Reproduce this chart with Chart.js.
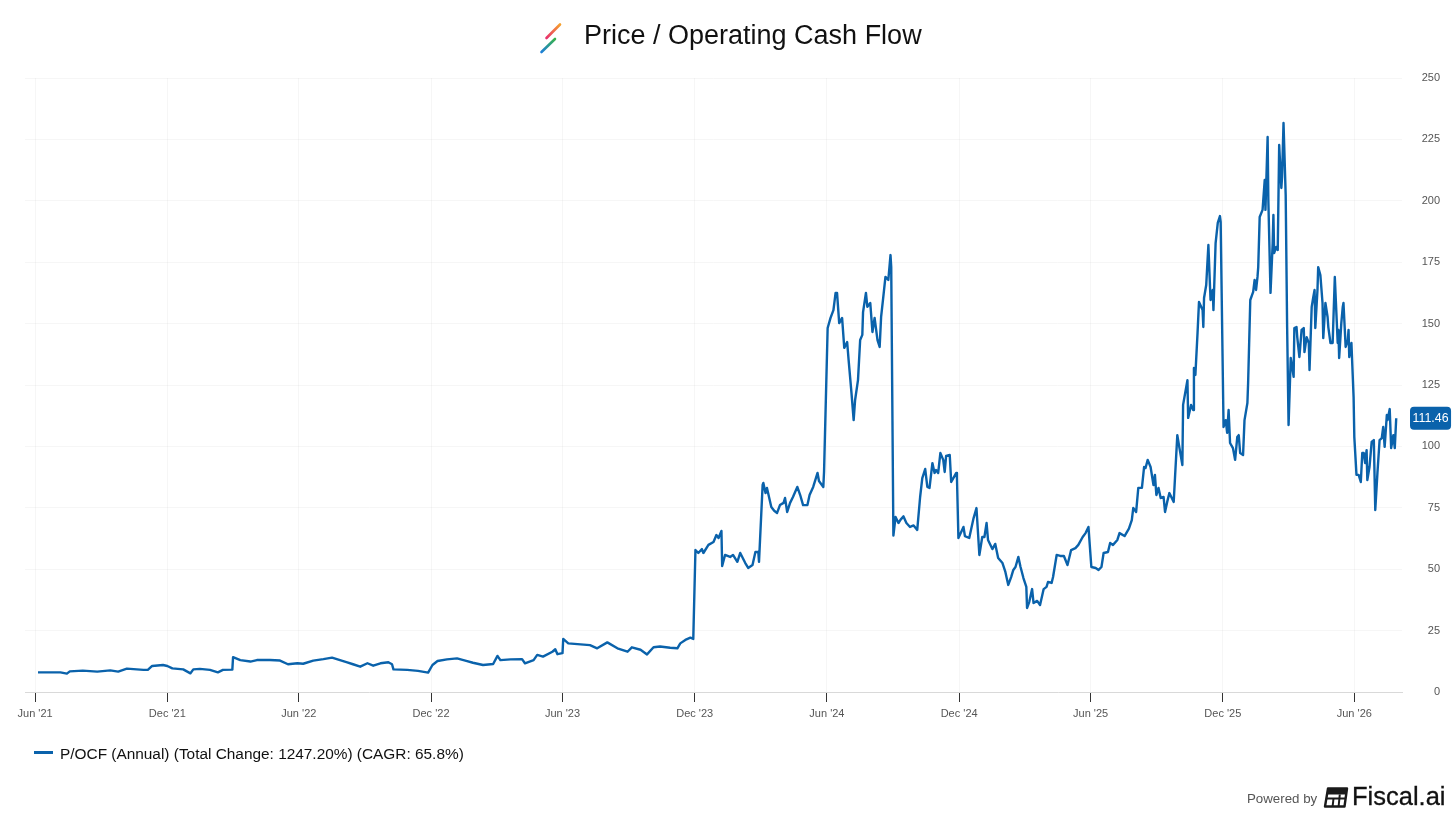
<!DOCTYPE html>
<html>
<head>
<meta charset="utf-8">
<title>Price / Operating Cash Flow</title>
<script src="https://cdn.jsdelivr.net/npm/chart.js@4.4.1/dist/chart.umd.min.js"></script>
<style>
  html, body { margin: 0; padding: 0; background: #fff; }
  #wrap { position: relative; width: 1456px; height: 819px; overflow: hidden;
          font-family: "Liberation Sans", Arial, Helvetica, sans-serif; }
  #chartBox { position: absolute; left: 0; top: 0; width: 1456px; height: 819px; }
  .title { position: absolute; left: 584px; top: 22px; font-size: 27px; line-height: 1;
           color: #111; white-space: nowrap; }
  .titleLogo { position: absolute; left: 536px; top: 20px; }
  .legendLine { position: absolute; left: 34px; top: 751px; width: 19px; height: 3px; background: #0a62ab; }
  .legendText { position: absolute; left: 60px; top: 746px; font-size: 15.4px; line-height: 1;
                color: #111; white-space: nowrap; }
  .powered { position: absolute; left: 1247px; top: 792px; font-size: 13.3px; line-height: 1;
             color: #555; white-space: nowrap; }
  .brandLogo { position: absolute; left: 1323px; top: 787px; }
  .brand { position: absolute; left: 1352px; top: 784px; font-size: 25.5px; line-height: 1;
           color: #111; white-space: nowrap; -webkit-text-stroke: 0.3px #111; }
</style>
</head>
<body>
<div id="wrap">
  <div id="chartBox"><canvas id="pocfChart"></canvas></div>

  <svg class="titleLogo" width="30" height="36" viewBox="0 0 30 36">
    <defs>
      <linearGradient id="gTop" x1="0" y1="1" x2="1" y2="0">
        <stop offset="0" stop-color="#e8306e"/>
        <stop offset="1" stop-color="#f5a02c"/>
      </linearGradient>
      <linearGradient id="gBot" x1="0" y1="1" x2="1" y2="0">
        <stop offset="0" stop-color="#1d7fd8"/>
        <stop offset="1" stop-color="#38b24a"/>
      </linearGradient>
    </defs>
    <line x1="10.5" y1="18" x2="24" y2="4.5" stroke="url(#gTop)" stroke-width="2.6" stroke-linecap="round"/>
    <line x1="5.5" y1="32" x2="19" y2="19" stroke="url(#gBot)" stroke-width="2.6" stroke-linecap="round"/>
  </svg>
  <div class="title">Price / Operating Cash Flow</div>

  <div class="legendLine"></div>
  <div class="legendText">P/OCF (Annual) (Total Change: 1247.20%) (CAGR: 65.8%)</div>

  <div class="powered">Powered by</div>
  <svg class="brandLogo" width="26" height="21" viewBox="0 0 26 21">
    <path d="M5 1.5 H24 L21.5 19.5 H2 Z" fill="none" stroke="#1a1a1a" stroke-width="2.4" stroke-linejoin="round"/>
    <path d="M5 1.5 H24 L23.2 7.5 H4.2 Z" fill="#1a1a1a"/>
    <line x1="4" y1="11.5" x2="22.6" y2="11.5" stroke="#1a1a1a" stroke-width="2"/>
    <line x1="10.5" y1="11.5" x2="9.6" y2="19.5" stroke="#1a1a1a" stroke-width="2"/>
    <line x1="16.8" y1="7.5" x2="15.6" y2="19.5" stroke="#1a1a1a" stroke-width="2"/>
  </svg>
  <div class="brand">Fiscal.ai</div>
</div>

<script>
const LINE = "#0a62ab";
const FONT = '"Liberation Sans", Arial, Helvetica, sans-serif';

// x values are days counted from 1 Jun 2021
const START = Date.UTC(2021, 5, 1);
const tickDates = ["2021-06-01", "2021-12-01", "2022-06-01", "2022-12-01", "2023-06-01", "2023-12-01",
                   "2024-06-01", "2024-12-01", "2025-06-01", "2025-12-01", "2026-06-01"];
const tickLabels = ["Jun '21", "Dec '21", "Jun '22", "Dec '22", "Jun '23", "Dec '23",
                    "Jun '24", "Dec '24", "Jun '25", "Dec '25", "Jun '26"];
const yTicks = [0, 25, 50, 75, 100, 125, 150, 175, 200, 225, 250];

// Jun 2021 - Nov 2023
const days21to23 = [4, 21, 35, 44, 48, 66, 86, 104, 115, 127, 150, 156, 162, 177, 183, 190, 205, 215, 219, 228,
  242, 253, 260, 273, 274, 284, 298, 307, 325, 339, 350, 363, 371, 385, 399, 411, 422, 432, 440, 450,
  460, 468, 478, 489, 494, 496, 515, 530, 544, 550, 557, 570, 584, 598, 606, 620, 634, 640, 644, 658,
  674, 678, 690, 695, 703, 716, 720, 723, 730, 731, 738, 755, 768, 778, 792, 806, 820, 826, 838, 847,
  856, 865, 879, 889, 893, 900, 907, 911];
const pocf21to23 = [8.0, 8.0, 8.0, 7.5, 8.4, 8.7, 8.3, 8.8, 8.3, 9.5, 9.0, 9.0, 10.6, 11.0, 10.6, 9.6, 9.2, 7.6, 9.2, 9.4,
  9.0, 8.0, 9.0, 9.1, 14.2, 13.0, 12.4, 13.0, 13.0, 12.8, 11.3, 11.7, 11.5, 12.8, 13.4, 14.0, 13.0, 12.1, 11.3, 10.3,
  11.7, 10.7, 11.7, 12.1, 11.3, 9.2, 9.0, 8.6, 7.9, 11.0, 12.6, 13.3, 13.7, 12.6, 11.9, 11.0, 11.4, 14.7, 13.0, 13.3,
  13.4, 11.7, 13.0, 15.1, 14.4, 16.4, 17.4, 15.4, 15.8, 21.6, 19.8, 19.4, 19.1, 17.8, 20.2, 17.8, 16.4, 18.2, 17.2, 15.3,
  18.2, 18.5, 18.0, 17.8, 19.8, 21.2, 22.1, 21.6];

// Dec 2023 - May 2024
const days23to24 = [914, 918, 923, 925, 932, 939, 943, 946, 950, 951, 955, 962, 966, 972, 976, 983, 987, 993, 997, 1001,
  1002, 1007, 1008, 1011, 1013, 1019, 1023, 1027, 1031, 1036, 1038, 1041, 1045, 1049, 1055, 1059, 1063, 1069, 1072, 1077,
  1083, 1085, 1091, 1092];
const pocf23to24 = [57.8, 56.6, 58.2, 56.6, 59.9, 61.1, 63.9, 62.7, 65.6, 51.3, 55.8, 55.0, 55.8, 53.0, 56.6, 52.5, 50.5, 51.7, 57.0, 57.0,
  53.0, 84.3, 85.1, 81.0, 83.1, 75.3, 73.8, 72.9, 76.1, 77.0, 79.0, 73.3, 77.0, 79.4, 83.5, 80.2, 76.1, 76.1, 80.2, 83.5,
  89.2, 85.9, 83.5, 89.6];

// Jun 2024 - Nov 2024
const days24 = [1097, 1101, 1105, 1108, 1110, 1113, 1117, 1120, 1124, 1126, 1130, 1133, 1135, 1139, 1142, 1145, 1146, 1150, 1152, 1156,
  1159, 1162, 1166, 1169, 1171, 1174, 1177, 1181, 1184, 1185, 1188, 1191, 1195, 1198, 1202, 1206, 1211, 1216, 1221, 1225,
  1228, 1232, 1235, 1238, 1242, 1245, 1247, 1250, 1253, 1257, 1259, 1261, 1266, 1268, 1271, 1275, 1276];
const pocf24 = [148.2, 152.3, 155.5, 162.5, 162.5, 150.2, 152.3, 140.1, 142.5, 135.2, 121.7, 110.7, 118.9, 127.0, 143.3, 145.4, 154.7, 162.5, 156.8, 158.4,
  146.6, 152.3, 143.3, 140.5, 152.7, 160.8, 169.0, 167.8, 177.9, 173.0, 63.7, 71.3, 68.8, 70.2, 71.5, 68.8, 67.2, 67.8, 66.0, 79.4,
  87.1, 90.8, 83.5, 83.1, 93.2, 89.2, 90.4, 89.2, 97.3, 94.5, 89.6, 96.1, 96.5, 85.5, 87.1, 89.2, 87.1];

// Dec 2024 - May 2025
const days24to25 = [1278, 1285, 1287, 1293, 1299, 1303, 1307, 1311, 1314, 1317, 1319, 1325, 1329, 1333, 1339, 1343, 1347, 1351, 1354, 1357,
  1361, 1364, 1368, 1372, 1373, 1376, 1380, 1382, 1387, 1391, 1396, 1400, 1402, 1407, 1409, 1414, 1419, 1424, 1429, 1434,
  1440, 1444, 1450, 1454, 1458];
const pocf24to25 = [62.7, 67.2, 63.5, 62.7, 70.8, 74.9, 55.8, 63.1, 63.1, 68.8, 61.9, 58.2, 60.3, 54.6, 52.5, 48.9, 43.6, 46.8, 49.7, 50.9,
  55.0, 50.9, 46.4, 42.8, 34.2, 36.6, 41.9, 36.2, 37.1, 35.4, 41.9, 42.8, 44.8, 44.4, 46.8, 55.8, 55.4, 55.4, 51.7, 57.8,
  58.6, 59.9, 63.1, 64.7, 67.2];

// Jun 2025 - Nov 2025
const days25 = [1462, 1468, 1472, 1476, 1479, 1485, 1488, 1492, 1498, 1501, 1508, 1514, 1518, 1520, 1524, 1527, 1532, 1535, 1537, 1540,
  1544, 1548, 1550, 1552, 1555, 1558, 1562, 1564, 1567, 1570, 1576, 1578, 1581, 1584, 1588, 1589, 1595, 1596, 1600, 1603,
  1604, 1606, 1609, 1611, 1616, 1617, 1618, 1621, 1624, 1627, 1630, 1631, 1634, 1637, 1640, 1641];
const pocf25 = [50.9, 50.5, 49.7, 50.9, 56.6, 57.0, 60.7, 59.9, 61.9, 64.7, 63.5, 66.5, 70.0, 74.9, 73.3, 83.1, 83.1, 91.6, 91.2, 94.5,
  91.6, 84.3, 88.4, 80.2, 83.1, 79.0, 79.4, 73.3, 77.4, 81.0, 77.4, 88.4, 104.6, 99.3, 92.4, 116.9, 127.0, 111.6, 116.9, 114.8,
  131.9, 129.1, 146.2, 158.8, 155.5, 148.6, 160.4, 165.7, 182.0, 159.6, 163.7, 155.5, 182.8, 191.0, 193.8, 191.4];

// Dec 2025 - Jul 2026
const days25to26 = [1645, 1648, 1650, 1652, 1654, 1658, 1661, 1664, 1666, 1668, 1672, 1674, 1678, 1679, 1682, 1686, 1688, 1690, 1692, 1693,
  1695, 1699, 1702, 1703, 1706, 1707, 1710, 1713, 1714, 1715, 1718, 1720, 1722, 1725, 1726, 1728, 1731, 1733, 1735, 1738,
  1740, 1742, 1743, 1746, 1747, 1750, 1753, 1756, 1757, 1760, 1763, 1764, 1767, 1769, 1771, 1772, 1775, 1776, 1779, 1782,
  1783, 1786, 1789, 1790, 1793, 1796, 1799, 1801, 1803, 1804, 1805, 1808, 1810, 1811, 1814, 1817, 1818, 1819, 1822, 1825,
  1826, 1829, 1832, 1835, 1837, 1839, 1841, 1843, 1844, 1847, 1850, 1853, 1855, 1858, 1861, 1864, 1866, 1868, 1871, 1872,
  1875, 1877, 1880, 1882, 1884];
const pocf25to26 = [107.9, 110.7, 105.5, 114.8, 101.4, 99.3, 94.5, 103.8, 104.6, 97.3, 96.5, 110.7, 117.7, 125.8, 159.6, 162.9, 167.8, 163.7, 169.0, 173.0,
  193.4, 196.3, 208.5, 196.3, 226.0, 200.3, 162.5, 182.8, 194.2, 178.7, 181.2, 180.0, 222.7, 205.2, 209.7, 231.7, 202.4, 148.6, 108.7, 136.0,
  132.3, 128.3, 148.2, 148.6, 144.5, 136.4, 147.4, 148.2, 138.4, 144.5, 142.1, 131.1, 156.8, 160.4, 163.7, 148.2, 163.7, 173.0, 169.8, 158.4,
  144.1, 158.4, 152.7, 148.6, 142.1, 142.1, 169.0, 155.5, 142.1, 147.4, 136.0, 150.2, 156.8, 158.4, 140.5, 143.3, 147.4, 136.4, 142.1, 120.1,
  103.8, 88.4, 88.4, 85.5, 97.3, 97.3, 93.2, 98.5, 86.3, 91.6, 101.8, 102.6, 74.1, 89.2, 102.6, 103.4, 107.9, 99.8, 112.8, 110.7,
  115.2, 99.3, 104.6, 99.3, 111.46];

const allDays = [].concat(days21to23, days23to24, days24, days24to25, days25, days25to26);
const allValues = [].concat(pocf21to23, pocf23to24, pocf24, pocf24to25, pocf25, pocf25to26);
const tickDays = tickDates.map(s => Math.round((Date.parse(s + "T00:00:00Z") - START) / 86400000));

// little blue box with the latest value, on the right axis
const lastValueTag = {
  id: "lastValueTag",
  afterDraw(chart) {
    const { ctx, chartArea, scales } = chart;
    const last = allValues[allValues.length - 1];
    const py = scales.y.getPixelForValue(last);
    const text = last.toFixed(2);
    ctx.save();
    ctx.font = "12.4px " + FONT;
    const w = ctx.measureText(text).width + 5;
    const h = 23;
    const x0 = chartArea.right + 8;
    ctx.fillStyle = LINE;
    ctx.beginPath();
    ctx.roundRect(x0, py - h / 2, w, h, 4);
    ctx.fill();
    ctx.fillStyle = "#fff";
    ctx.textAlign = "left";
    ctx.textBaseline = "middle";
    ctx.fillText(text, x0 + 2.5, py + 0.5);
    ctx.restore();
  }
};

const ctx = document.getElementById("pocfChart").getContext("2d");

const chart = new Chart(ctx, {
  type: "line",
  data: {
    datasets: [{
      label: "P/OCF (Annual)",
      data: allDays.map((d, i) => ({ x: d, y: allValues[i] })),
      borderColor: LINE,
      borderWidth: 2.4,
      borderJoinStyle: "round",
      pointRadius: 0,
      tension: 0,
      fill: false
    }]
  },
  options: {
    responsive: true,
    maintainAspectRatio: false,
    animation: false,
    events: [],
    layout: { padding: { top: 78, bottom: 99, left: 25, right: 16 } },
    plugins: {
      legend: { display: false },
      tooltip: { enabled: false },
      title: { display: false }
    },
    scales: {
      x: {
        type: "linear",
        min: -14,
        max: 1892,
        afterBuildTicks: (scale) => { scale.ticks = tickDays.map(v => ({ value: v })); },
        afterFit: (scale) => { scale.height = 28; },
        ticks: {
          autoSkip: false,
          maxRotation: 0,
          padding: 5,
          color: "#555",
          font: { family: FONT, size: 11 },
          callback: (value, index) => tickLabels[index]
        },
        grid: { color: "rgba(0,0,0,0.035)", tickColor: "#333", tickLength: 10 },
        border: { display: true, color: "#d9d9d9", width: 1 }
      },
      y: {
        position: "right",
        min: 0,
        max: 250,
        afterBuildTicks: (scale) => { scale.ticks = yTicks.map(v => ({ value: v })); },
        afterFit: (scale) => { scale.width = 38; },
        ticks: {
          color: "#555",
          crossAlign: "far",
          font: { family: FONT, size: 11 }
        },
        grid: { color: "rgba(0,0,0,0.035)", drawTicks: false },
        border: { display: false }
      }
    }
  },
  plugins: [lastValueTag]
});
</script>
</body>
</html>
